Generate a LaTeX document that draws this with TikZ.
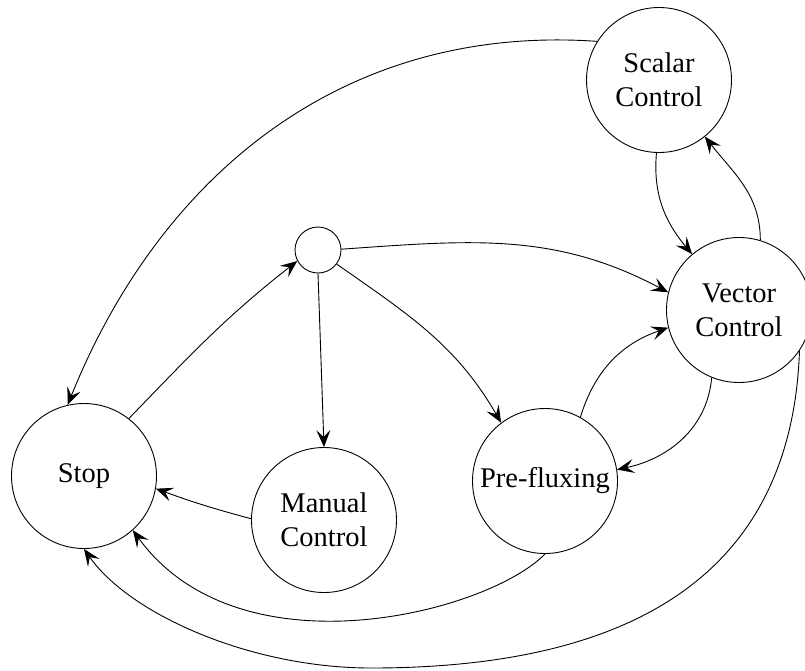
\documentclass[tikz,border=0pt]{standalone}
\usepackage{fontspec}
\newfontfamily\diagfont{Liberation Serif}
\usetikzlibrary{arrows.meta}
\begin{document}
\begin{tikzpicture}[x=1pt,y=1pt,
  state/.style={draw,circle,line width=0.9pt,minimum size=145pt,inner sep=0pt,align=center,
    font=\diagfont\fontsize{28.5}{34}\selectfont},
  junction/.style={draw,circle,line width=0.9pt,minimum size=46pt,inner sep=0pt},
  link/.style={line width=0.9pt,-{Stealth[length=17pt,width=14pt,inset=7pt]}}]
\useasboundingbox (0,0) rectangle (805,-670);
\node[state] (sc) at (659,-80) {Scalar\\Control};
\node[state] (vc) at (739,-310) {Vector\\Control};
\node[junction] (sm) at (318,-250) {};
\node[state] (st) at (84,-476) {Stop};
\node[state] (mc) at (324,-520) {Manual\\Control};
\node[state] (pf) at (545,-481) {Pre-fluxing};
\coordinate (bot) at (371,-668);
\draw[link] (sc.148) to[out=176,in=68] (st.103);
\draw[link] (sc.268) to[out=265,in=130] (vc.130);
\draw[link] (vc.73) to[out=90,in=308] (sc.309);
\draw[link] (sm.2) to[out=4,in=152] (vc.166);
\draw[link] (sm.south) -- (mc.north);
\draw[link] (sm.323) to[out=-35,in=120] (pf.127);
\draw[link] (st.52) to[out=46,in=218] (sm.208);
\draw[link] (mc.179) to[out=165,in=-20] (st.350);
\draw[link] (pf.61) to[out=73,in=199] (vc.194);
\draw[link] (vc.248) to[out=265,in=12] (pf.9);
\draw[link] (pf.270) .. controls +(226:81) and +(306:182) .. (st.312);
\draw[link] (vc.326) .. controls +(268:210) and +(0:280) .. (bot)
  .. controls +(180:120) and +(305:80) .. (st.270);
\end{tikzpicture}
\end{document}
